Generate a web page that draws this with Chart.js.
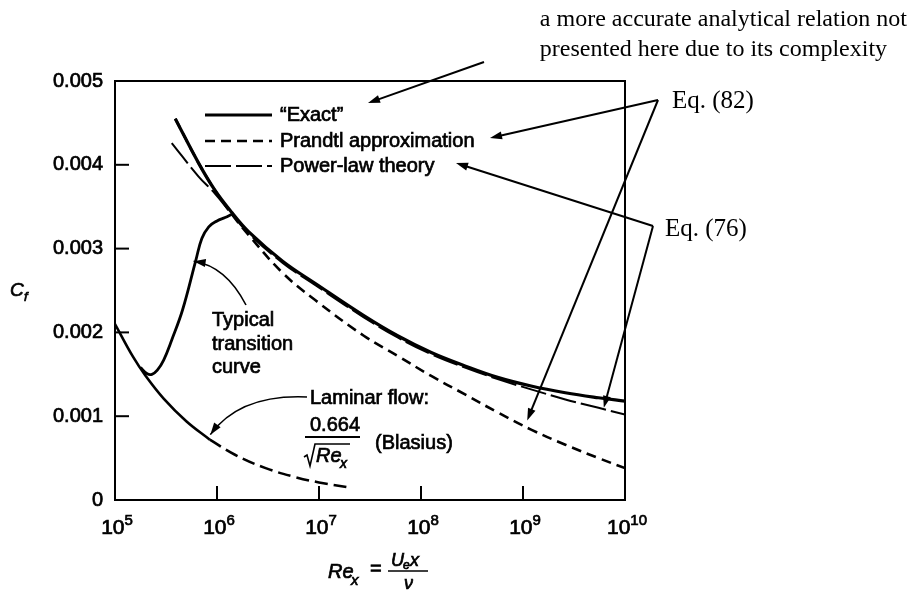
<!DOCTYPE html>
<html>
<head>
<meta charset="utf-8">
<script src="https://cdn.jsdelivr.net/npm/chart.js@4.4.1/dist/chart.umd.min.js"></script>
<style>
  html, body { margin: 0; padding: 0; background: #fff; }
  #wrap { width: 912px; height: 592px; position: relative; }
</style>
</head>
<body>
<div id="wrap"><canvas id="cf"></canvas></div>
<script>
// values (Re_x on a log axis, Cf linear)
const reExact = [3.9e5, 6.6e5, 9.5e5, 1.4e6, 2.05e6, 4.4e6, 9.3e6, 2.75e7, 5.9e7, 1.26e8, 2.7e8, 5.75e8, 1.2e9, 2.6e9, 5.5e9, 1e10];
const cfExact = [0.00455, 0.00402, 0.0037, 0.00343, 0.0032, 0.00285, 0.00258, 0.0022, 0.00196, 0.00176, 0.0016, 0.00146, 0.00136, 0.00128, 0.00122, 0.00118];

const rePrandtl = [3.9e5, 6.6e5, 9.5e5, 1.4e6, 2.05e6, 4.4e6, 9.3e6, 2.75e7, 5.9e7, 1.26e8, 2.7e8, 5.75e8, 1.2e9, 2.6e9, 5.5e9, 1e10];
const cfPrandtl = [0.00455, 0.00402, 0.0037, 0.00341, 0.00316, 0.00271, 0.00238, 0.00196, 0.00172, 0.00148, 0.00126, 0.00104, 0.00084, 0.00066, 0.0005, 0.00038];

const rePower = [3.6e5, 6.6e5, 9.5e5, 1.4e6, 2.05e6, 4.4e6, 9.3e6, 2.75e7, 5.9e7, 1.26e8, 2.7e8, 5.75e8, 1.2e9, 2.6e9, 5.5e9, 1e10];
const cfPower = [0.00426, 0.00386, 0.00366, 0.00341, 0.00318, 0.00283, 0.00256, 0.00218, 0.00194, 0.00174, 0.00158, 0.00144, 0.00132, 0.0012, 0.0011, 0.00102];

const reTransition = [1.78e5, 2.05e5, 2.3e5, 2.6e5, 3.0e5, 3.6e5, 4.6e5, 6.2e5, 7.1e5, 8.3e5, 1.0e6, 1.2e6, 1.4e6];
const cfTransition = [0.00158, 0.00151, 0.0015, 0.00155, 0.00167, 0.00191, 0.00227, 0.00286, 0.00312, 0.00326, 0.00333, 0.00337, 0.00341];

const reLaminar = [1e5, 1.5e5, 2e5, 3e5, 5e5, 8.5e5];
const cfLaminar = [0.0021, 0.00171, 0.00148, 0.00121, 0.00094, 0.00072];

const reLaminarExt = [8.5e5, 1.5e6, 3e6, 6e6, 1e7, 1.9e7];
const cfLaminarExt = [0.00072, 0.00054, 0.00038, 0.00027, 0.00021, 0.000152];

const xTicks = [1e5, 1e6, 1e7, 1e8, 1e9, 1e10];
const xTickExp = ['5', '6', '7', '8', '9', '10'];
const yTicks = [0, 0.001, 0.002, 0.003, 0.004, 0.005];
const yTickLabels = ['0', '0.001', '0.002', '0.003', '0.004', '0.005'];
const legendLabels = ['\u201CExact\u201D', 'Prandtl approximation', 'Power-law theory'];

const sans = '"Liberation Sans", Arial, sans-serif';
const serif = '"Liberation Serif", "Times New Roman", serif';

const pts = (xs, ys) => xs.map((x, i) => ({ x: x, y: ys[i] }));

function line(ctx, x1, y1, x2, y2) {
  ctx.beginPath();
  ctx.moveTo(x1, y1);
  ctx.lineTo(x2, y2);
  ctx.stroke();
}

function head(ctx, x, y, ang, len, half) {
  ctx.beginPath();
  ctx.moveTo(x, y);
  ctx.lineTo(x - len * Math.cos(ang) + half * Math.sin(ang), y - len * Math.sin(ang) - half * Math.cos(ang));
  ctx.lineTo(x - len * Math.cos(ang) - half * Math.sin(ang), y - len * Math.sin(ang) + half * Math.cos(ang));
  ctx.closePath();
  ctx.fill();
}

function arrow(ctx, x1, y1, x2, y2) {
  const a = Math.atan2(y2 - y1, x2 - x1);
  line(ctx, x1, y1, x2 - 8 * Math.cos(a), y2 - 8 * Math.sin(a));
  head(ctx, x2, y2, a, 12, 4);
}

function curvedArrow(ctx, x1, y1, cx, cy, x2, y2) {
  ctx.beginPath();
  ctx.moveTo(x1, y1);
  ctx.quadraticCurveTo(cx, cy, x2, y2);
  ctx.stroke();
  head(ctx, x2, y2, Math.atan2(y2 - cy, x2 - cx), 12, 4);
}

// print-like text: fill plus a thin stroke to thicken it
function txt(ctx, s, x, y, font, heavy) {
  ctx.font = font;
  ctx.fillText(s, x, y);
  if (heavy !== false) {
    ctx.save();
    ctx.lineWidth = 0.7;
    ctx.strokeText(s, x, y);
    ctx.restore();
  }
}

const paper = {
  id: 'paper',
  afterDraw(chart) {
    const ctx = chart.ctx;
    const a = chart.chartArea;
    const xs = chart.scales.x, ys = chart.scales.y;
    ctx.save();
    ctx.strokeStyle = '#000';
    ctx.fillStyle = '#000';
    ctx.lineCap = 'butt';

    // frame and inward tick marks
    ctx.lineWidth = 2;
    ctx.strokeRect(a.left, a.top, a.right - a.left, a.bottom - a.top);
    yTicks.slice(1, -1).forEach(v => {
      const y = ys.getPixelForValue(v);
      line(ctx, a.left, y, a.left + 14, y);
    });
    xTicks.slice(1, -1).forEach(v => {
      const x = xs.getPixelForValue(v);
      line(ctx, x, a.bottom, x, a.bottom - 14);
    });

    // x tick labels as powers of ten
    xTicks.forEach((v, i) => {
      const x = xs.getPixelForValue(v);
      ctx.font = '21px ' + sans;
      const w10 = ctx.measureText('10').width;
      ctx.font = '15px ' + sans;
      const we = ctx.measureText(xTickExp[i]).width;
      const x0 = x - (w10 + we) / 2 + 2;
      txt(ctx, '10', x0, a.bottom + 34, '21px ' + sans);
      txt(ctx, xTickExp[i], x0 + w10, a.bottom + 25, '15px ' + sans);
    });

    // legend
    ctx.textBaseline = 'middle';
    const rows = [115, 141, 166];
    legendLabels.forEach((lab, i) => {
      const ds = chart.data.datasets[i];
      ctx.lineWidth = ds.borderWidth;
      ctx.setLineDash(ds.borderDash || []);
      line(ctx, 205, rows[i], 272, rows[i]);
      ctx.setLineDash([]);
      txt(ctx, lab, 280, rows[i], '20px ' + sans);
    });
    ctx.textBaseline = 'alphabetic';

    // transition note
    txt(ctx, 'Typical', 212, 326, '20px ' + sans);
    txt(ctx, 'transition', 212, 350, '20px ' + sans);
    txt(ctx, 'curve', 212, 373, '20px ' + sans);
    ctx.lineWidth = 1.6;
    curvedArrow(ctx, 246, 305, 226, 266, xs.getPixelForValue(5.9e5), ys.getPixelForValue(0.00285));

    // laminar note
    txt(ctx, 'Laminar flow:', 310, 404, '20px ' + sans);
    ctx.lineWidth = 1.6;
    curvedArrow(ctx, 307, 397, 240, 394, xs.getPixelForValue(8.6e5), ys.getPixelForValue(0.00078));
    txt(ctx, '0.664', 310, 431, '20px ' + sans);
    ctx.lineWidth = 2;
    line(ctx, 305, 437, 360, 437);
    ctx.lineWidth = 1.6;
    ctx.beginPath();
    ctx.moveTo(304, 457);
    ctx.lineTo(307, 455);
    ctx.lineTo(310, 466);
    ctx.lineTo(315, 444);
    ctx.lineTo(350, 444);
    ctx.stroke();
    txt(ctx, 'Re', 316, 462, 'italic 20px ' + sans);
    txt(ctx, 'x', 340, 468, 'italic 14px ' + sans);
    txt(ctx, '(Blasius)', 375, 449, '20px ' + sans);

    // axis titles
    txt(ctx, 'C', 10, 296, 'italic 19px ' + sans);
    txt(ctx, 'f', 24, 301, 'italic 13px ' + sans);
    txt(ctx, 'Re', 328, 578, 'italic 20px ' + sans);
    txt(ctx, 'x', 351, 585, 'italic 15px ' + sans);
    txt(ctx, '=', 370, 575, '20px ' + sans);
    ctx.lineWidth = 1.6;
    line(ctx, 388, 571, 428, 571);
    txt(ctx, 'U', 391, 566, 'italic 18px ' + sans);
    txt(ctx, 'e', 403, 569, 'italic 12px ' + sans);
    txt(ctx, 'x', 410, 566, 'italic 18px ' + sans);
    txt(ctx, '\u03BD', 404, 589, 'italic 18px ' + sans);

    // notes outside the frame
    ctx.font = '24px ' + serif;
    const w1 = ctx.measureText('a more accurate analytical relation not').width;
    const left = 907 - w1;
    txt(ctx, 'a more accurate analytical relation not', left, 26, '24px ' + serif, false);
    txt(ctx, 'presented here due to its complexity', left, 56, '24px ' + serif, false);
    txt(ctx, 'Eq. (82)', 672, 108, '25px ' + serif, false);
    txt(ctx, 'Eq. (76)', 665, 236, '25px ' + serif, false);

    ctx.lineWidth = 2;
    arrow(ctx, 484, 62, 368, 103);
    arrow(ctx, 658, 100, 490, 138);
    arrow(ctx, 658, 100, xs.getPixelForValue(1.1e9), ys.getPixelForValue(0.00095));
    arrow(ctx, 653, 226, 456, 163);
    arrow(ctx, 653, 226, xs.getPixelForValue(6.2e9), ys.getPixelForValue(0.00110));

    ctx.restore();
  }
};

const curve = (data, width, dash) => ({
  data: data,
  borderColor: '#000',
  borderWidth: width,
  borderDash: dash,
  pointRadius: 0,
  fill: false,
  tension: 0.4
});

new Chart(document.getElementById('cf'), {
  type: 'line',
  data: {
    datasets: [
      curve(pts(reExact, cfExact), 3.2, []),
      curve(pts(rePrandtl, cfPrandtl), 2.6, [10, 6]),
      curve(pts(rePower, cfPower), 2, [26, 5]),
      curve(pts(reTransition, cfTransition), 2.8, []),
      curve(pts(reLaminar, cfLaminar), 2.6, []),
      curve(pts(reLaminarExt, cfLaminarExt), 2.6, [13, 6])
    ]
  },
  options: {
    responsive: true,
    maintainAspectRatio: false,
    animation: false,
    devicePixelRatio: 1,
    layout: { padding: { left: 0, top: 81, right: 287, bottom: 0 } },
    plugins: { legend: { display: false }, tooltip: { enabled: false } },
    scales: {
      x: {
        type: 'logarithmic',
        min: 1e5,
        max: 1e10,
        afterBuildTicks: s => { s.ticks = xTicks.map(v => ({ value: v })); },
        afterFit: s => { s.height = 92; },
        grid: { display: false, drawTicks: false },
        border: { display: false },
        ticks: { display: false }
      },
      y: {
        min: 0,
        max: 0.005,
        afterBuildTicks: s => { s.ticks = yTicks.map(v => ({ value: v })); },
        afterFit: s => { s.width = 115; },
        grid: { display: false, drawTicks: false },
        border: { display: false },
        ticks: {
          autoSkip: false,
          padding: 12,
          color: '#000',
          textStrokeColor: '#000',
          textStrokeWidth: 0.7,
          font: { family: sans, size: 20 },
          callback: (v) => yTickLabels[yTicks.indexOf(v)]
        }
      }
    }
  },
  plugins: [paper]
});
</script>
</body>
</html>
